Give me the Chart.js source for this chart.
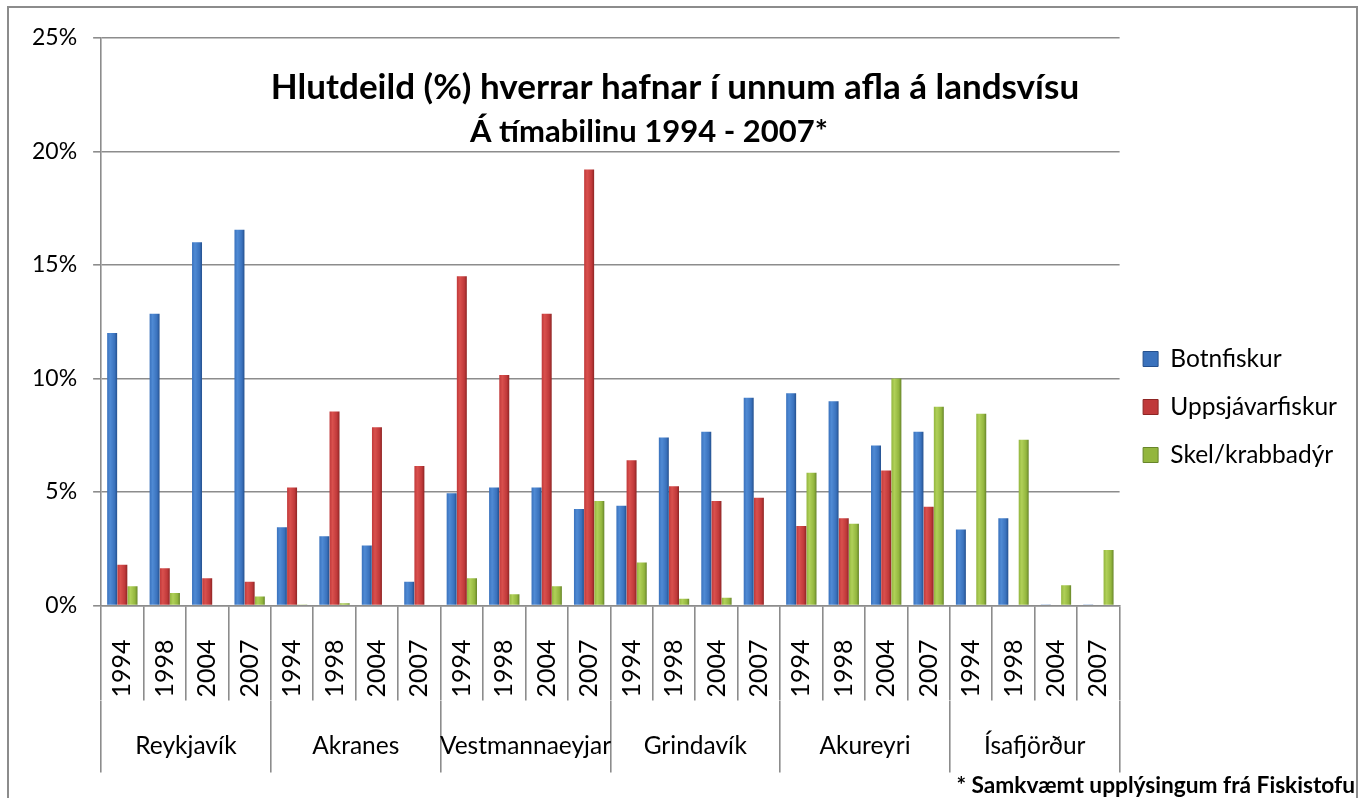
<!DOCTYPE html>
<html>
<head>
<meta charset="utf-8">
<script src="https://cdn.jsdelivr.net/npm/chart.js@4.4.1/dist/chart.umd.min.js"></script>
<style>
  body { margin: 0; background: #fff; overflow: hidden; }
  #wrap { position: absolute; left: 7px; top: 6px; width: 1347px; height: 800px; border: 2px solid #8c8c8c; }
  canvas { display: block; }
</style>
</head>
<body>
<div id="wrap"><canvas id="myChart" width="1347" height="790"></canvas></div>
<script>
const regions = ["Reykjavík", "Akranes", "Vestmannaeyjar", "Grindavík", "Akureyri", "Ísafjörður"];
const years = ["1994", "1998", "2004", "2007"];

// percent share per port and year, in the order of regions x years
const botnfiskur = [12.0, 12.85, 16.0, 16.55, 3.45, 3.05, 2.65, 1.05, 4.95, 5.2, 5.2, 4.25,
  4.4, 7.4, 7.65, 9.15, 9.35, 9.0, 7.05, 7.65, 3.35, 3.85, 0.05, 0.05];
const uppsjavarfiskur = [1.8, 1.65, 1.2, 1.05, 5.2, 8.55, 7.85, 6.15, 14.5, 10.15, 12.85, 19.2,
  6.4, 5.25, 4.6, 4.75, 3.5, 3.85, 5.95, 4.35, 0, 0, 0, 0];
const skel = [0.85, 0.55, 0, 0.4, 0.05, 0.1, 0, 0, 1.2, 0.5, 0.85, 4.6,
  1.9, 0.3, 0.35, 0, 5.85, 3.6, 10.0, 8.75, 8.45, 7.3, 0.9, 2.45];

const seriesNames = ["Botnfiskur", "Uppsjávarfiskur", "Skel/krabbadýr"];
const yTicks = [0, 5, 10, 15, 20, 25];

const titleText = "Hlutdeild (%) hverrar hafnar í unnum afla á landsvísu";
const subtitleText = "Á tímabilinu 1994 - 2007*";
const footnoteText = "* Samkvæmt upplýsingum frá Fiskistofu";

// light, mid, dark
const blue = ["#4f8ad4", "#3a72bd", "#24508e"];
const red = ["#d9504d", "#c0393a", "#8e2524"];
const green = ["#b0d058", "#93b63e", "#67852a"];

const categoryLabels = [];
regions.forEach(() => years.forEach((y) => categoryLabels.push(y)));

function barFill(colors) {
  return function (ctx) {
    const meta = ctx.chart.getDatasetMeta(ctx.datasetIndex);
    const el = meta.data[ctx.dataIndex];
    if (!el || !el.width) return colors[1];
    const left = el.x - el.width / 2;
    const g = ctx.chart.ctx.createLinearGradient(left, 0, left + el.width, 0);
    g.addColorStop(0, colors[1]);
    g.addColorStop(0.3, colors[0]);
    g.addColorStop(0.75, colors[1]);
    g.addColorStop(1, colors[2]);
    return g;
  };
}

const textPlugin = {
  id: "texts",
  afterDraw(chart) {
    const c = chart.ctx;
    c.save();
    c.fillStyle = "#000";
    c.textAlign = "center";
    c.textBaseline = "middle";
    c.font = "bold 35px Lato";
    c.fillText(titleText, 666, 80);
    c.font = "bold 31px Lato";
    c.fillText(subtitleText, 640, 124);
    c.textAlign = "right";
    c.font = "bold 22.7px Lato";
    c.fillText(footnoteText, chart.width - 1, 778);
    c.restore();
  },
};

const gridGray = "#8c8c8c";
const tickFont = { family: "Lato", size: 23 };
const catFont = { family: "Lato", size: 25 };
const groupFont = { family: "Lato", size: 24.5 };

function createChart() {
  const ctx = document.getElementById("myChart").getContext("2d");
  const chart = new Chart(ctx, {
    type: "bar",
    data: {
      labels: categoryLabels,
      datasets: [
        { label: seriesNames[0], data: botnfiskur, backgroundColor: barFill(blue) },
        { label: seriesNames[1], data: uppsjavarfiskur, backgroundColor: barFill(red) },
        { label: seriesNames[2], data: skel, backgroundColor: barFill(green) },
      ],
    },
    options: {
      responsive: false,
      animation: false,
      categoryPercentage: 0.72,
      barPercentage: 0.98,
      layout: { padding: { top: 21, left: 7, right: 9, bottom: 25 } },
      plugins: {
        legend: {
          position: "right",
          title: { display: true, text: " ", font: { size: 10 }, padding: 0 },
          labels: {
            font: groupFont,
            color: "#000",
            boxWidth: 15,
            boxHeight: 15,
            padding: 23.5,
            generateLabels(chart) {
              const items = Chart.defaults.plugins.legend.labels.generateLabels(chart);
              const sets = [blue, red, green];
              items.forEach((it, i) => {
                it.fillStyle = sets[i][1];
                it.strokeStyle = sets[i][2];
                it.lineWidth = 1;
              });
              return items;
            },
          },
        },
        tooltip: { enabled: false },
      },
      scales: {
        y: {
          min: 0,
          max: 25,
          afterBuildTicks(scale) {
            scale.ticks = yTicks.map((v) => ({ value: v }));
          },
          ticks: {
            font: tickFont,
            color: "#000",
            padding: 16,
            callback: (v) => v + "%",
          },
          grid: { color: gridGray, lineWidth: 1.6, tickLength: 8 },
          border: { color: gridGray, width: 1.6 },
        },
        x: {
          weight: 0,
          ticks: {
            font: catFont,
            color: "#000",
            autoSkip: false,
            minRotation: 90,
            maxRotation: 90,
            padding: -61,
          },
          grid: { offset: true, drawOnChartArea: false, tickLength: 95, color: gridGray, lineWidth: 1.6 },
          border: { color: gridGray, width: 1.6 },
          title: { display: true, text: " ", font: { size: 10 }, padding: { top: 0, bottom: 52 } },
        },
        x2: {
          type: "category",
          position: "bottom",
          weight: 1,
          labels: regions,
          offset: true,
          ticks: { font: groupFont, color: "#000", padding: -41, maxRotation: 0, autoSkip: false },
          grid: { offset: true, drawOnChartArea: false, tickLength: 72, color: gridGray, lineWidth: 1.6 },
          border: { display: false },
          title: { display: true, text: " ", font: { size: 10 }, padding: { top: 0, bottom: 41 } },
        },
      },
    },
    plugins: [textPlugin],
  });
  chart.update("none");
}

createChart();
</script>
</body>
</html>
